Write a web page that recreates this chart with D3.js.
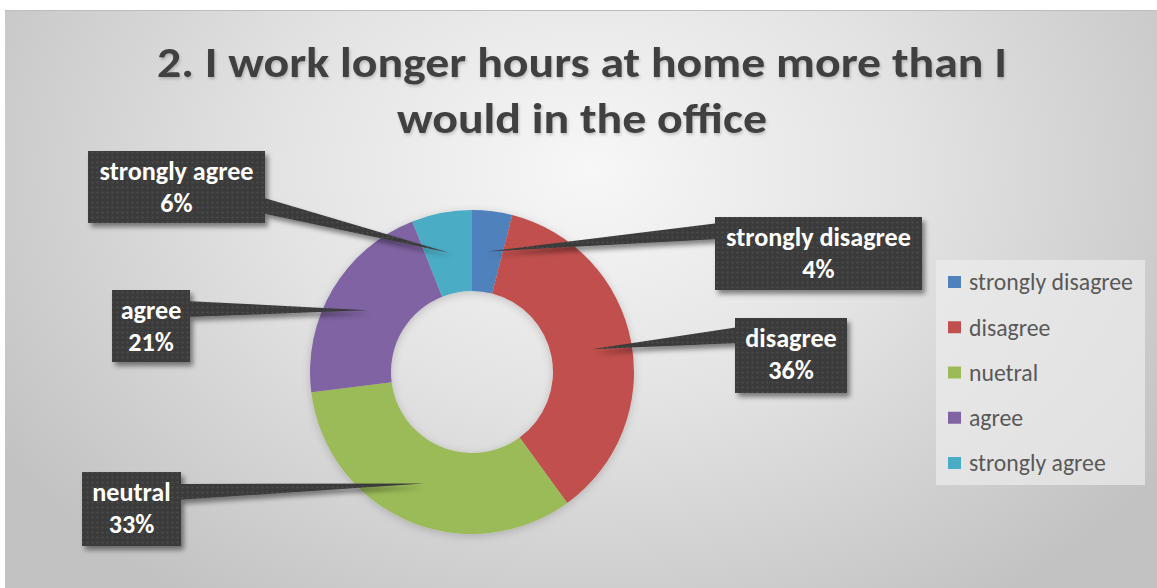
<!DOCTYPE html>
<html>
<head>
<meta charset="utf-8">
<script src="https://cdn.jsdelivr.net/npm/d3@7/dist/d3.min.js"></script>
<style>
  html, body { margin: 0; padding: 0; background: #ffffff; }
  svg { display: block; }
  text { font-family: Carlito, Lato, "Open Sans", sans-serif; }
</style>
</head>
<body>
<svg id="chart" width="1157" height="588"></svg>
<script>
// Survey answers and their shares (percent)
const categories = ["strongly disagree", "disagree", "neutral", "agree", "strongly agree"];
const legendLabels = ["strongly disagree", "disagree", "nuetral", "agree", "strongly agree"];
const shares = [4, 36, 33, 21, 6];
const colors = ["#4f81bd", "#c0504d", "#9bbb59", "#8064a2", "#4bacc6"];
const titleLines = ["2. I work longer hours at home more than I", "would in the office"];

// Callout box placement: [x, y, width, height, side the pointer leaves from, pointer base y]
const calloutLayout = [
  [715, 217, 207, 73, "left", 231],
  [735, 318, 112, 75, "left", 335],
  [82, 472, 99, 74, "right", 492],
  [112, 290, 78, 72, "right", 309],
  [88, 151, 177, 72, "right", 205]
];

const W = 1157, H = 588;
const svg = d3.select("#chart");
const defs = svg.append("defs");

// Background radial gradient
const bg = defs.append("radialGradient").attr("id", "bgGrad")
  .attr("gradientUnits", "userSpaceOnUse")
  .attr("cx", 590).attr("cy", 170).attr("r", 700)
  .attr("gradientTransform", "translate(590,170) scale(1,0.75) translate(-590,-170)");
bg.append("stop").attr("offset", 0).attr("stop-color", "#f7f7f7");
bg.append("stop").attr("offset", 0.45).attr("stop-color", "#e3e3e3");
bg.append("stop").attr("offset", 1).attr("stop-color", "#c2c2c2");

// Dotted texture for callouts
const pat = defs.append("pattern").attr("id", "dots")
  .attr("patternUnits", "userSpaceOnUse").attr("width", 5).attr("height", 5);
pat.append("rect").attr("width", 5).attr("height", 5).attr("fill", "#3b3b3b");
pat.append("circle").attr("cx", 2.5).attr("cy", 2.5).attr("r", 1.1).attr("fill", "#4d4d4d");

// Drop shadow for callouts
const sh = defs.append("filter").attr("id", "shadow")
  .attr("x", "-20%").attr("y", "-20%").attr("width", "140%").attr("height", "160%");
sh.append("feDropShadow").attr("dx", 3).attr("dy", 4).attr("stdDeviation", 2.5)
  .attr("flood-color", "#000").attr("flood-opacity", 0.45);

// Soft shadow for the ring
const rs = defs.append("filter").attr("id", "ringShadow")
  .attr("x", "-20%").attr("y", "-20%").attr("width", "140%").attr("height", "140%");
rs.append("feDropShadow").attr("dx", 0).attr("dy", 2).attr("stdDeviation", 4)
  .attr("flood-color", "#000").attr("flood-opacity", 0.18);

// Title shadow
const ts = defs.append("filter").attr("id", "titleShadow")
  .attr("x", "-5%").attr("y", "-20%").attr("width", "110%").attr("height", "160%");
ts.append("feDropShadow").attr("dx", 1).attr("dy", 2).attr("stdDeviation", 1.5)
  .attr("flood-color", "#000").attr("flood-opacity", 0.2);

svg.append("rect").attr("x", 5).attr("y", 10).attr("width", W - 5).attr("height", H - 10)
  .attr("fill", "url(#bgGrad)");
svg.append("line").attr("x1", 5).attr("x2", W).attr("y1", 10.5).attr("y2", 10.5)
  .attr("stroke", "#bdbdbd").attr("stroke-width", 1);

// Fit a group's font size so that a reference string reaches a target width
function fitSize(sample, weight, baseSize, targetWidth) {
  const t = svg.append("text").attr("font-size", baseSize).attr("font-weight", weight).text(sample);
  const w = t.node().getComputedTextLength();
  t.remove();
  return w > 0 ? baseSize * targetWidth / w : baseSize;
}

// Title: condensed to the line widths
const titleWidths = [850, 370];
const title = svg.append("g").attr("filter", "url(#titleShadow)");
title.selectAll("text").data(titleLines).join("text")
  .attr("x", 582)
  .attr("y", (d, i) => 77 + i * 56)
  .attr("text-anchor", "middle")
  .attr("font-size", 42)
  .attr("font-weight", "bold")
  .attr("fill", "#404040")
  .attr("textLength", (d, i) => titleWidths[i])
  .attr("lengthAdjust", "spacingAndGlyphs")
  .text(d => d);

// Donut
const cx = 472, cy = 372, outerR = 162, innerR = 81;
const pie = d3.pie().sort(null).value(d => d);
const arcs = pie(shares);
const arc = d3.arc().innerRadius(innerR).outerRadius(outerR);
const ring = svg.append("g").attr("transform", `translate(${cx},${cy})`).attr("filter", "url(#ringShadow)");
ring.selectAll("path").data(arcs).join("path")
  .attr("d", arc)
  .attr("fill", (d, i) => colors[i]);

// Callouts: box plus pointer that ends at each slice's centroid
const labelSize = fitSize("strongly disagree", "bold", 20, 185);
const callouts = svg.append("g");
arcs.forEach((a, i) => {
  const [bx, by, bw, bh, side, py] = calloutLayout[i];
  const [tx, ty] = arc.centroid(a);
  const tipX = cx + tx, tipY = cy + ty;
  const hw = 8;
  const edgeX = side === "right" ? bx + bw : bx;
  const inner = side === "right" ? edgeX - 4 : edgeX + 4;
  const g = callouts.append("g");
  const shape = g.append("g").attr("filter", "url(#shadow)");
  shape.append("rect").attr("x", bx).attr("y", by).attr("width", bw).attr("height", bh)
    .attr("fill", "url(#dots)");
  shape.append("path")
    .attr("d", d3.line()([[inner, py - hw], [tipX, tipY], [inner, py + hw]]) + "Z")
    .attr("fill", "url(#dots)");
  const midX = bx + bw / 2;
  g.append("text").attr("x", midX).attr("y", by + 29)
    .attr("text-anchor", "middle").attr("font-size", labelSize).attr("font-weight", "bold")
    .attr("fill", "#ffffff").text(categories[i]);
  g.append("text").attr("x", midX).attr("y", by + 61)
    .attr("text-anchor", "middle").attr("font-size", labelSize).attr("font-weight", "bold")
    .attr("fill", "#ffffff").text(d3.format(".0%")(a.data / 100));
});

// Legend
const legendSize = fitSize("strongly disagree", "normal", 18, 164);
const legend = svg.append("g");
legend.append("rect").attr("x", 936).attr("y", 260).attr("width", 209).attr("height", 225)
  .attr("fill", "#ececec").attr("fill-opacity", 0.7);
const ly = d3.scalePoint().domain(legendLabels).range([282, 463]);
const rows = legend.selectAll("g.row").data(legendLabels).join("g").attr("class", "row")
  .attr("transform", d => `translate(0,${ly(d)})`);
rows.append("rect").attr("x", 948).attr("y", -6).attr("width", 13).attr("height", 12)
  .attr("fill", (d, i) => colors[i]);
rows.append("text").attr("x", 969).attr("y", 0).attr("dy", "0.35em")
  .attr("font-size", legendSize).attr("fill", "#595959").text(d => d);
</script>
</body>
</html>
